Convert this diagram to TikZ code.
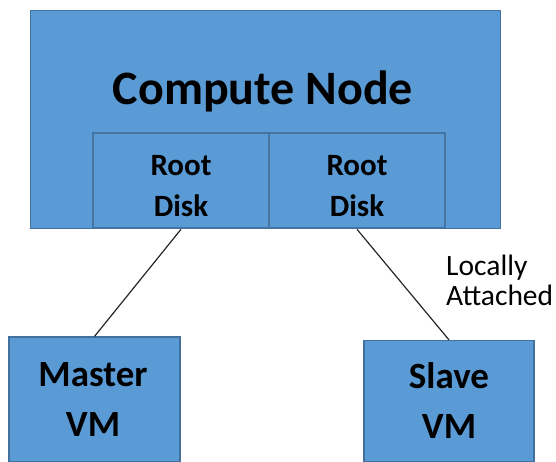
\documentclass[tikz,border=0pt]{standalone}
\usepackage{fontspec}
\setmainfont{Carlito}
\definecolor{boxfill}{HTML}{5B9BD5}
\definecolor{boxline}{HTML}{41719C}
\definecolor{linkcol}{HTML}{262626}
\begin{document}
\begin{tikzpicture}[x=1pt,y=-1pt,
  box/.style={draw=boxline, fill=boxfill, line width=1pt, inner sep=0pt, align=center},
  disk/.style={box, line width=2.6pt, draw=boxline!90!boxfill, minimum width=176pt, minimum height=95pt},
  disktext/.style={inner sep=0pt, align=center, font=\fontsize{31}{41}\selectfont\bfseries},
  vm/.style={box, line width=1.2pt},
  vmtext/.style={inner sep=0pt, align=center, font=\fontsize{37}{50}\selectfont\bfseries},
  link/.style={draw=linkcol, line width=1.2pt}]
\useasboundingbox (0,0) rectangle (556,462);
\node[box, minimum width=470pt, minimum height=218pt] (compute) at (265,119.5) {};
\node[anchor=base, inner sep=0pt, font=\fontsize{48}{50}\selectfont\bfseries] (title) at (263,105) {Compute Node};
\node[disk] (disk1) at (181,180.5) {};
\node[disk] (disk2) at (357,180.5) {};
\node[disktext] (disk1text) at (disk1.center |- 0,186) {Root\\Disk};
\node[disktext] (disk2text) at (disk2.center |- 0,186) {Root\\Disk};
\node[vm, minimum width=171pt, minimum height=125pt] (master) at (94.5,399.5) {};
\node[vm, minimum width=170pt, minimum height=121pt] (slave) at (449,401) {};
\node[vmtext] (mastertext) at (93,399) {Master\\VM};
\node[vmtext] (slavetext) at (449,400.5) {Slave\\VM};
\draw[link] (disk1.south) -- (master.north);
\draw[link] (disk2.south) -- (slave.north);
\node[anchor=west, align=left, inner sep=0pt, font=\fontsize{29.5}{30}\selectfont] (label) at (446,280) {Locally\\Attached};
\end{tikzpicture}
\end{document}
